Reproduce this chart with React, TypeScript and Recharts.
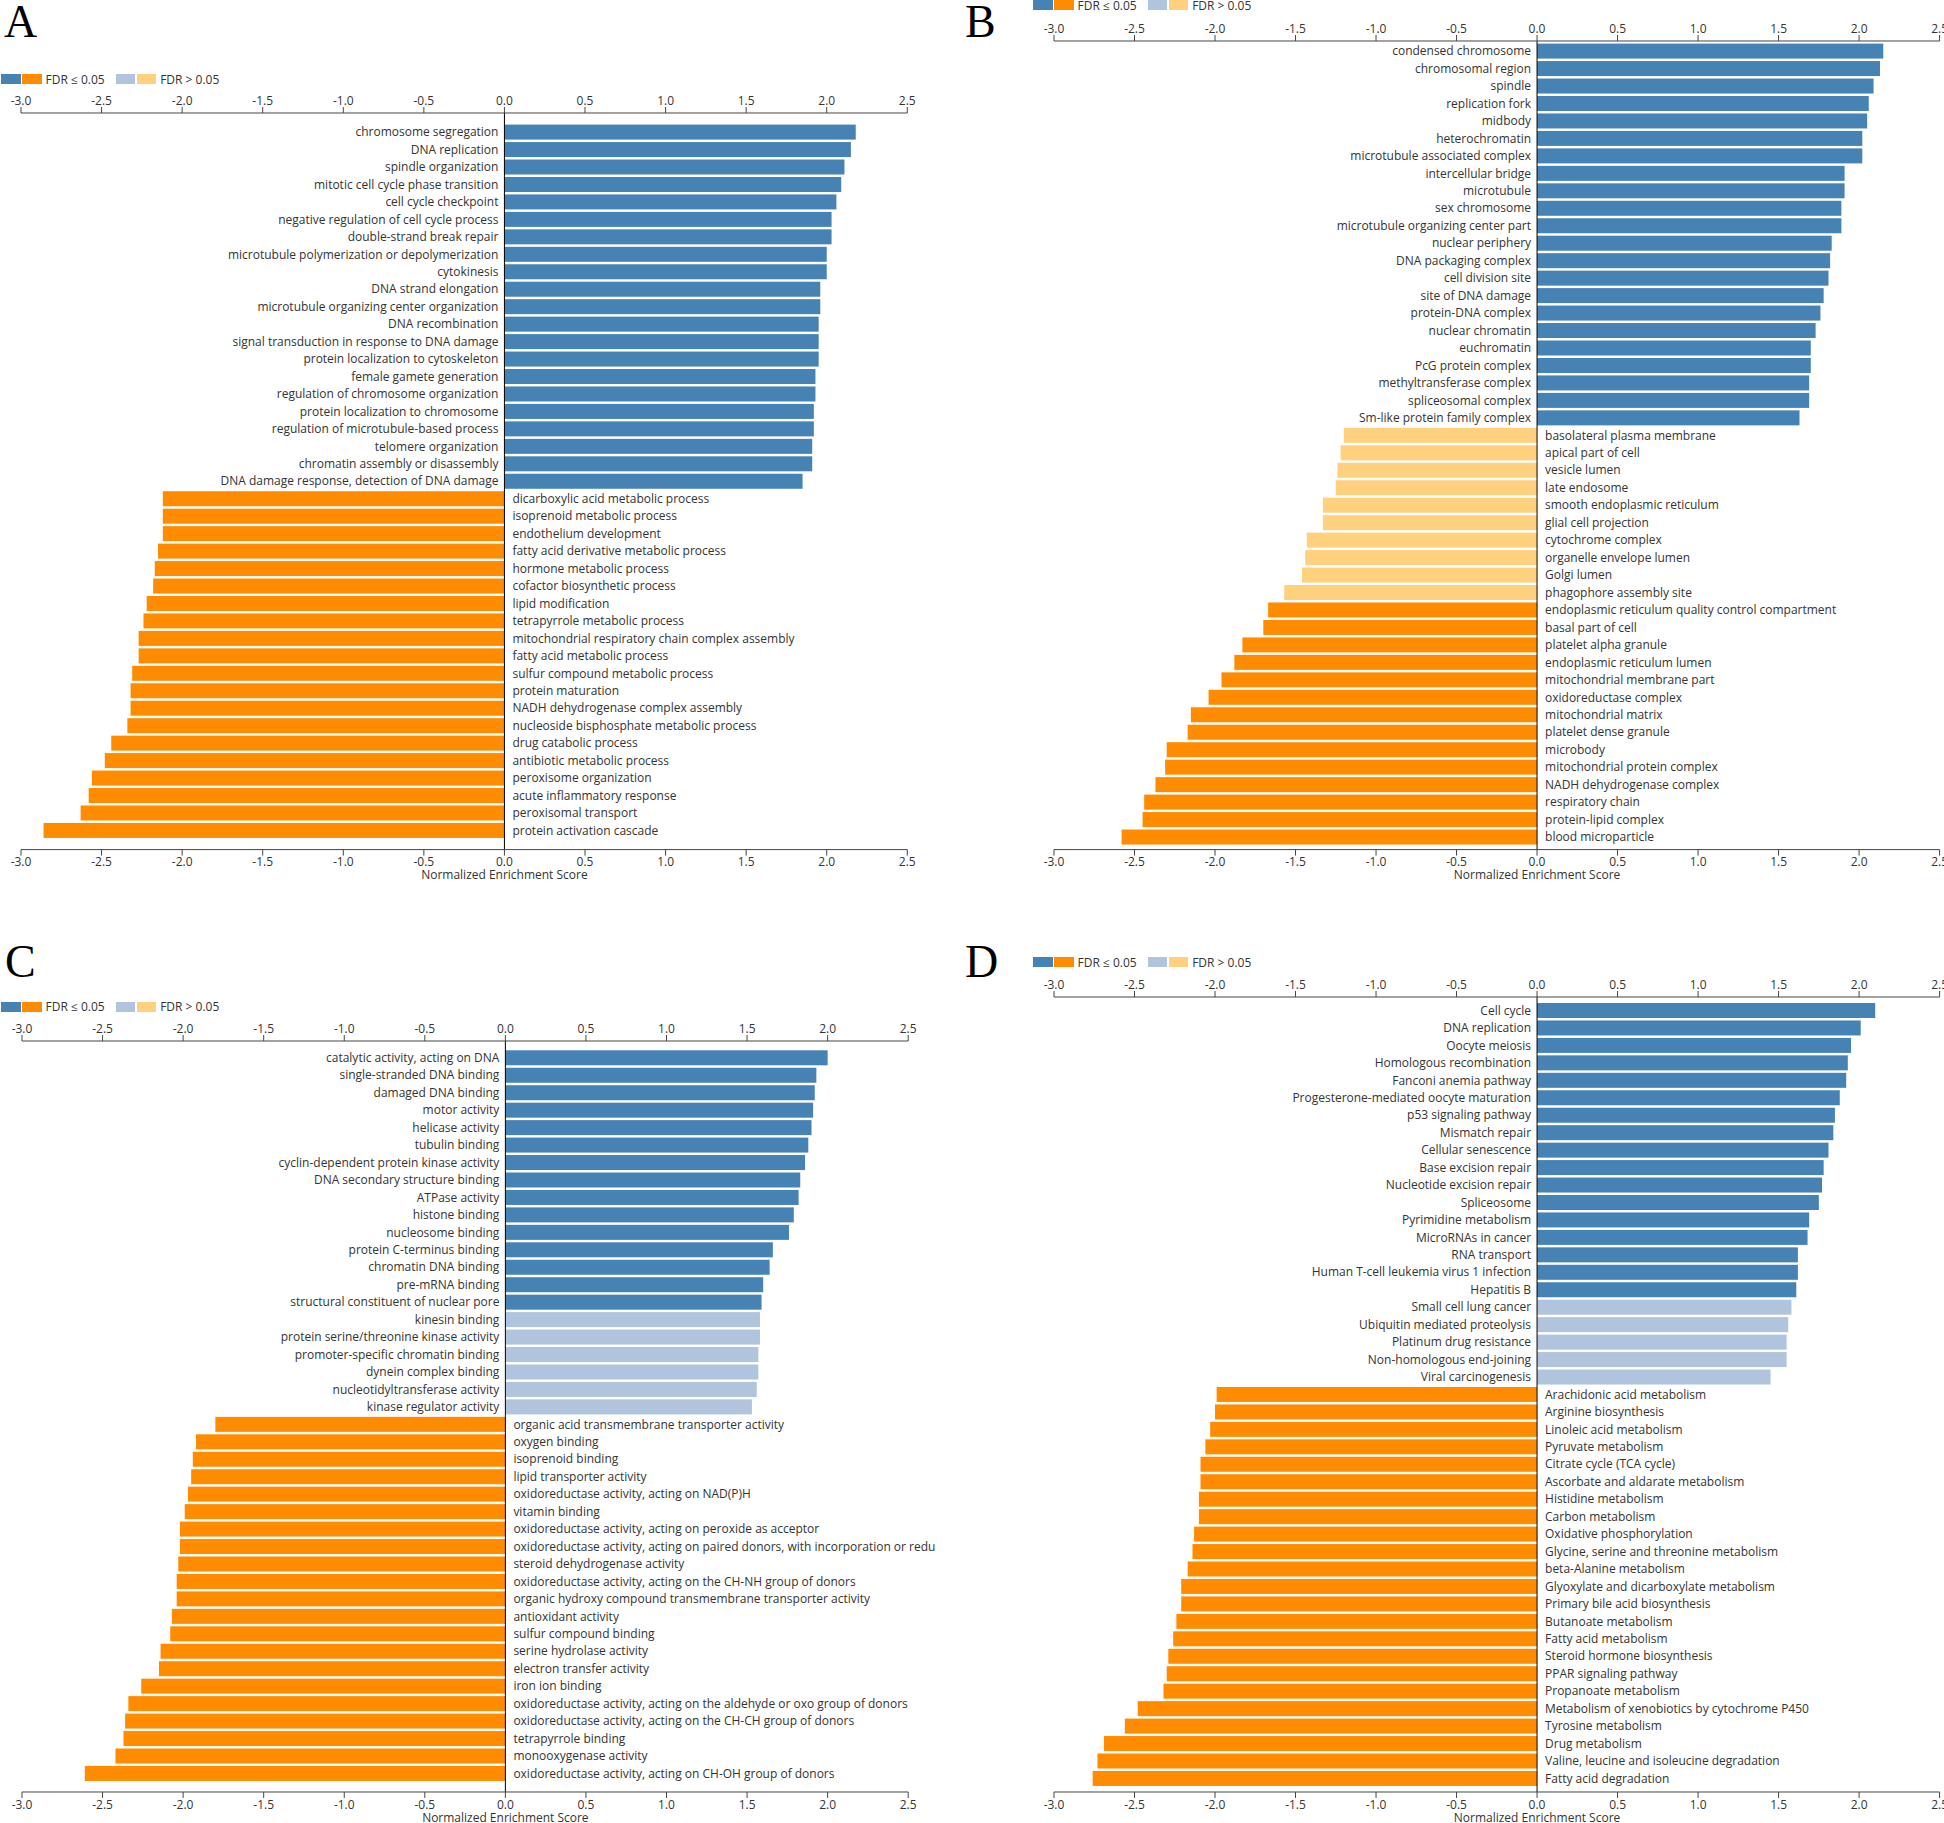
import { BarChart, Bar, XAxis, YAxis, ReferenceLine } from 'recharts'

const BLUE = '#4682B4'
const ORANGE = '#FF8C00'
const LIGHT_BLUE = '#B0C4DE'
const LIGHT_ORANGE = '#FFD17E'
const FONT = '"Open Sans", sans-serif'

const TICKS = [-3, -2.5, -2, -1.5, -1, -0.5, 0, 0.5, 1, 1.5, 2, 2.5]

// A: biological process
const aUpNames = [
    'chromosome segregation',
    'DNA replication',
    'spindle organization',
    'mitotic cell cycle phase transition',
    'cell cycle checkpoint',
    'negative regulation of cell cycle process',
    'double-strand break repair',
    'microtubule polymerization or depolymerization',
    'cytokinesis',
    'DNA strand elongation',
    'microtubule organizing center organization',
    'DNA recombination',
    'signal transduction in response to DNA damage',
    'protein localization to cytoskeleton',
    'female gamete generation',
    'regulation of chromosome organization',
    'protein localization to chromosome',
    'regulation of microtubule-based process',
    'telomere organization',
    'chromatin assembly or disassembly',
    'DNA damage response, detection of DNA damage',
]
const aUpNes = [2.18, 2.15, 2.11, 2.09, 2.06, 2.03, 2.03, 2.0, 2.0, 1.96, 1.96, 1.95, 1.95, 1.95, 1.93, 1.93, 1.92, 1.92, 1.91, 1.91, 1.85]
const aDownNames = [
    'dicarboxylic acid metabolic process',
    'isoprenoid metabolic process',
    'endothelium development',
    'fatty acid derivative metabolic process',
    'hormone metabolic process',
    'cofactor biosynthetic process',
    'lipid modification',
    'tetrapyrrole metabolic process',
    'mitochondrial respiratory chain complex assembly',
    'fatty acid metabolic process',
    'sulfur compound metabolic process',
    'protein maturation',
    'NADH dehydrogenase complex assembly',
    'nucleoside bisphosphate metabolic process',
    'drug catabolic process',
    'antibiotic metabolic process',
    'peroxisome organization',
    'acute inflammatory response',
    'peroxisomal transport',
    'protein activation cascade',
]
const aDownNes = [-2.12, -2.12, -2.12, -2.15, -2.17, -2.18, -2.22, -2.24, -2.27, -2.27, -2.31, -2.32, -2.32, -2.34, -2.44, -2.48, -2.56, -2.58, -2.63, -2.86]

// B: cellular component
const bUpNames = [
    'condensed chromosome',
    'chromosomal region',
    'spindle',
    'replication fork',
    'midbody',
    'heterochromatin',
    'microtubule associated complex',
    'intercellular bridge',
    'microtubule',
    'sex chromosome',
    'microtubule organizing center part',
    'nuclear periphery',
    'DNA packaging complex',
    'cell division site',
    'site of DNA damage',
    'protein-DNA complex',
    'nuclear chromatin',
    'euchromatin',
    'PcG protein complex',
    'methyltransferase complex',
    'spliceosomal complex',
    'Sm-like protein family complex',
]
const bUpNes = [2.15, 2.13, 2.09, 2.06, 2.05, 2.02, 2.02, 1.91, 1.91, 1.89, 1.89, 1.83, 1.82, 1.81, 1.78, 1.76, 1.73, 1.7, 1.7, 1.69, 1.69, 1.63]
const bDownNsNames = [
    'basolateral plasma membrane',
    'apical part of cell',
    'vesicle lumen',
    'late endosome',
    'smooth endoplasmic reticulum',
    'glial cell projection',
    'cytochrome complex',
    'organelle envelope lumen',
    'Golgi lumen',
    'phagophore assembly site',
]
const bDownNsNes = [-1.2, -1.22, -1.24, -1.25, -1.33, -1.33, -1.43, -1.44, -1.46, -1.57]
const bDownNames = [
    'endoplasmic reticulum quality control compartment',
    'basal part of cell',
    'platelet alpha granule',
    'endoplasmic reticulum lumen',
    'mitochondrial membrane part',
    'oxidoreductase complex',
    'mitochondrial matrix',
    'platelet dense granule',
    'microbody',
    'mitochondrial protein complex',
    'NADH dehydrogenase complex',
    'respiratory chain',
    'protein-lipid complex',
    'blood microparticle',
]
const bDownNes = [-1.67, -1.7, -1.83, -1.88, -1.96, -2.04, -2.15, -2.17, -2.3, -2.31, -2.37, -2.44, -2.45, -2.58]

// C: molecular function
const cUpNames = [
    'catalytic activity, acting on DNA',
    'single-stranded DNA binding',
    'damaged DNA binding',
    'motor activity',
    'helicase activity',
    'tubulin binding',
    'cyclin-dependent protein kinase activity',
    'DNA secondary structure binding',
    'ATPase activity',
    'histone binding',
    'nucleosome binding',
    'protein C-terminus binding',
    'chromatin DNA binding',
    'pre-mRNA binding',
    'structural constituent of nuclear pore',
]
const cUpNes = [2.0, 1.93, 1.92, 1.91, 1.9, 1.88, 1.86, 1.83, 1.82, 1.79, 1.76, 1.66, 1.64, 1.6, 1.59]
const cUpNsNames = [
    'kinesin binding',
    'protein serine/threonine kinase activity',
    'promoter-specific chromatin binding',
    'dynein complex binding',
    'nucleotidyltransferase activity',
    'kinase regulator activity',
]
const cUpNsNes = [1.58, 1.58, 1.57, 1.57, 1.56, 1.53]
const cDownNames = [
    'organic acid transmembrane transporter activity',
    'oxygen binding',
    'isoprenoid binding',
    'lipid transporter activity',
    'oxidoreductase activity, acting on NAD(P)H',
    'vitamin binding',
    'oxidoreductase activity, acting on peroxide as acceptor',
    'oxidoreductase activity, acting on paired donors, with incorporation or redu',
    'steroid dehydrogenase activity',
    'oxidoreductase activity, acting on the CH-NH group of donors',
    'organic hydroxy compound transmembrane transporter activity',
    'antioxidant activity',
    'sulfur compound binding',
    'serine hydrolase activity',
    'electron transfer activity',
    'iron ion binding',
    'oxidoreductase activity, acting on the aldehyde or oxo group of donors',
    'oxidoreductase activity, acting on the CH-CH group of donors',
    'tetrapyrrole binding',
    'monooxygenase activity',
    'oxidoreductase activity, acting on CH-OH group of donors',
]
const cDownNes = [-1.8, -1.92, -1.94, -1.95, -1.97, -1.99, -2.02, -2.02, -2.03, -2.04, -2.04, -2.07, -2.08, -2.14, -2.15, -2.26, -2.34, -2.36, -2.37, -2.42, -2.61]

// D: KEGG pathway
const dUpNames = [
    'Cell cycle',
    'DNA replication',
    'Oocyte meiosis',
    'Homologous recombination',
    'Fanconi anemia pathway',
    'Progesterone-mediated oocyte maturation',
    'p53 signaling pathway',
    'Mismatch repair',
    'Cellular senescence',
    'Base excision repair',
    'Nucleotide excision repair',
    'Spliceosome',
    'Pyrimidine metabolism',
    'MicroRNAs in cancer',
    'RNA transport',
    'Human T-cell leukemia virus 1 infection',
    'Hepatitis B',
]
const dUpNes = [2.1, 2.01, 1.95, 1.93, 1.92, 1.88, 1.85, 1.84, 1.81, 1.78, 1.77, 1.75, 1.69, 1.68, 1.62, 1.62, 1.61]
const dUpNsNames = [
    'Small cell lung cancer',
    'Ubiquitin mediated proteolysis',
    'Platinum drug resistance',
    'Non-homologous end-joining',
    'Viral carcinogenesis',
]
const dUpNsNes = [1.58, 1.56, 1.55, 1.55, 1.45]
const dDownNames = [
    'Arachidonic acid metabolism',
    'Arginine biosynthesis',
    'Linoleic acid metabolism',
    'Pyruvate metabolism',
    'Citrate cycle (TCA cycle)',
    'Ascorbate and aldarate metabolism',
    'Histidine metabolism',
    'Carbon metabolism',
    'Oxidative phosphorylation',
    'Glycine, serine and threonine metabolism',
    'beta-Alanine metabolism',
    'Glyoxylate and dicarboxylate metabolism',
    'Primary bile acid biosynthesis',
    'Butanoate metabolism',
    'Fatty acid metabolism',
    'Steroid hormone biosynthesis',
    'PPAR signaling pathway',
    'Propanoate metabolism',
    'Metabolism of xenobiotics by cytochrome P450',
    'Tyrosine metabolism',
    'Drug metabolism',
    'Valine, leucine and isoleucine degradation',
    'Fatty acid degradation',
]
const dDownNes = [-1.99, -2.0, -2.03, -2.06, -2.09, -2.09, -2.1, -2.1, -2.13, -2.14, -2.17, -2.21, -2.21, -2.24, -2.26, -2.29, -2.3, -2.32, -2.48, -2.56, -2.69, -2.73, -2.76]

interface Row {
    name: string
    nes: number
    sig: boolean
}

const rows = (names: string[], nes: number[], sig: boolean): Row[] =>
    names.map((name, i) => ({ name, nes: nes[i], sig }))

const barColor = (d: Row) =>
    d.nes >= 0 ? (d.sig ? BLUE : LIGHT_BLUE) : d.sig ? ORANGE : LIGHT_ORANGE

// draws the bar and its term name on the opposite side of zero
const BarWithLabel = (props: any) => {
    const { x, y, width, height, payload } = props
    if (!payload) return null
    const left = Math.min(x, x + width)
    const w = Math.abs(width)
    const up = payload.nes >= 0
    const zero = up ? left : left + w
    return (
        <g>
            <rect x={left} y={y} width={w} height={height} fill={barColor(payload)} />
            <text
                x={up ? zero - 6 : zero + 8}
                y={y + height / 2}
                dy="0.35em"
                textAnchor={up ? 'end' : 'start'}
                fontSize={12}
                fontFamily={FONT}
                fill="#333"
            >
                {payload.name}
            </text>
        </g>
    )
}

const ML = 25
const MT = 2
const MB = 25
const AXIS_H = 30

interface PanelProps {
    data: Row[]
    plotLeft: number
    plotRight: number
    plotTop: number
    plotBottom: number
    padTop: number
    padBottom: number
    marginRight?: number
}

function EnrichmentPanel({ data, plotLeft, plotRight, plotTop, plotBottom, padTop, padBottom, marginRight = 25 }: PanelProps) {
    const width = plotRight - plotLeft + ML + marginRight
    const height = plotBottom - plotTop + AXIS_H * 2 + MT + MB
    const axisProps = {
        type: 'number' as const,
        domain: [-3, 2.5],
        ticks: TICKS,
        interval: 0 as const,
        height: AXIS_H,
        tickSize: 6,
        tickFormatter: (v: number) => v.toFixed(1),
        axisLine: { stroke: '#444' },
        tickLine: { stroke: '#444' },
        tick: { fill: '#333', fontSize: 12, fontFamily: FONT },
    }
    return (
        <div style={{ position: 'absolute', left: plotLeft - ML, top: plotTop - AXIS_H - MT }}>
            <BarChart
                layout="vertical"
                width={width}
                height={height}
                data={data}
                margin={{ top: MT, right: marginRight, bottom: MB, left: ML }}
                barCategoryGap={1.2}
            >
                <XAxis xAxisId="top" orientation="top" allowDataOverflow {...axisProps} />
                <XAxis xAxisId="bottom" orientation="bottom" {...axisProps} />
                <YAxis type="category" dataKey="name" hide padding={{ top: padTop, bottom: padBottom }} />
                <Bar dataKey="nes" xAxisId="bottom" shape={BarWithLabel} isAnimationActive={false} />
                <ReferenceLine
                    x={0}
                    xAxisId="bottom"
                    stroke="#000"
                    strokeWidth={1}
                    label={{
                        value: 'Normalized Enrichment Score',
                        position: 'bottom',
                        offset: 21,
                        fontSize: 12,
                        fontFamily: FONT,
                        fill: '#333',
                    }}
                />
            </BarChart>
        </div>
    )
}

const Swatch = ({ color, gap }: { color: string; gap: number }) => (
    <span style={{ display: 'inline-block', width: 19.5, height: 10, background: color, marginLeft: gap }} />
)

const FdrLegend = ({ left, top }: { left: number; top: number }) => (
    <div
        style={{
            position: 'absolute',
            left,
            top,
            height: 10,
            display: 'flex',
            alignItems: 'center',
            whiteSpace: 'nowrap',
            fontSize: 12,
            fontFamily: FONT,
            color: '#333',
        }}
    >
        <Swatch color={BLUE} gap={0} />
        <Swatch color={ORANGE} gap={1.5} />
        <span style={{ marginLeft: 4 }}>FDR ≤ 0.05</span>
        <Swatch color={LIGHT_BLUE} gap={11} />
        <Swatch color={LIGHT_ORANGE} gap={1.5} />
        <span style={{ marginLeft: 4 }}>FDR &gt; 0.05</span>
    </div>
)

const PanelLetter = ({ text, left, top }: { text: string; left: number; top: number }) => (
    <div
        style={{
            position: 'absolute',
            left,
            top,
            fontFamily: '"Liberation Serif", "Times New Roman", serif',
            fontSize: 46,
            lineHeight: 1,
            color: '#000',
        }}
    >
        {text}
    </div>
)

export default function App() {
    const dataA = [...rows(aUpNames, aUpNes, true), ...rows(aDownNames, aDownNes, true)]
    const dataB = [
        ...rows(bUpNames, bUpNes, true),
        ...rows(bDownNsNames, bDownNsNes, false),
        ...rows(bDownNames, bDownNes, true),
    ]
    const dataC = [
        ...rows(cUpNames, cUpNes, true),
        ...rows(cUpNsNames, cUpNsNes, false),
        ...rows(cDownNames, cDownNes, true),
    ]
    const dataD = [
        ...rows(dUpNames, dUpNes, true),
        ...rows(dUpNsNames, dUpNsNes, false),
        ...rows(dDownNames, dDownNes, true),
    ]

    return (
        <div
            style={{
                position: 'absolute',
                left: 0,
                top: 0,
                width: 1944,
                height: 1823,
                overflow: 'hidden',
                background: '#fff',
                fontFamily: FONT,
            }}
        >
            <EnrichmentPanel data={dataA} plotLeft={21.3} plotRight={907.6} plotTop={112.7} plotBottom={849.3} padTop={10.4} padBottom={10.4} marginRight={60} />
            <EnrichmentPanel data={dataB} plotLeft={1053.8} plotRight={1939.4} plotTop={40.7} plotBottom={849.3} padTop={1.4} padBottom={3.8} />
            <EnrichmentPanel data={dataC} plotLeft={21.5} plotRight={907.7} plotTop={1040.7} plotBottom={1791.7} padTop={8.1} padBottom={9.8} marginRight={60} />
            <EnrichmentPanel data={dataD} plotLeft={1053.8} plotRight={1939.4} plotTop={996.7} plotBottom={1791.7} padTop={4.8} padBottom={4.8} />

            <FdrLegend left={1} top={74} />
            <FdrLegend left={1033} top={0} />
            <FdrLegend left={1} top={1001.7} />
            <FdrLegend left={1033} top={957} />

            <PanelLetter text="A" left={4} top={-1} />
            <PanelLetter text="B" left={965} top={-1} />
            <PanelLetter text="C" left={5} top={939} />
            <PanelLetter text="D" left={965} top={939} />
        </div>
    )
}
